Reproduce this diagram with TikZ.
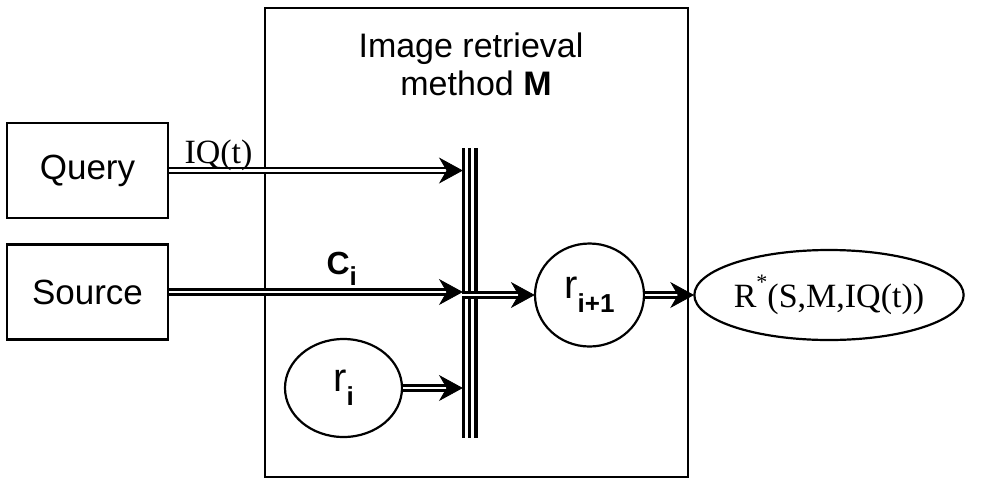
\documentclass[tikz,border=0pt]{standalone}
\usepackage{fontspec}
\setmainfont{Liberation Sans}
\newfontfamily\tnr{Liberation Serif}
\usetikzlibrary{arrows.meta,shapes.geometric}
\newcommand{\subtxt}[1]{\raisebox{-0.35em}{\fontsize{26}{26}\selectfont\bfseries #1}}
\begin{document}
\begin{tikzpicture}[x=1pt,y=-1pt,
  srcbox/.style={draw, line width=2.2pt, minimum width=161pt, minimum height=95pt,
    inner sep=0pt, font=\fontsize{35}{35}\selectfont},
  ell/.style={draw, ellipse, line width=2.2pt, inner sep=0pt},
  dblline/.style={double, line width=2.6pt, double distance=2.2pt, shorten >=13pt, line cap=butt},
  tiphead/.pic={\filldraw[line width=0.8pt, line join=miter] (0,0) -- (-22,-12) -- (-15,0) -- (-22,12) -- cycle;},
  barline/.style={line cap=butt},
  lbl/.style={font=\fontsize{34}{34}\selectfont}
]
\useasboundingbox (0,0) rectangle (985,480);

% big box
\node[draw, line width=2.2pt, minimum width=423pt, minimum height=469pt, inner sep=0pt]
  (M) at (476.5,242.5) {};
\node[lbl, anchor=base] (t1) at (471,57) {Image retrieval};
\node[lbl, anchor=base] (t2) at (476,95) {method \textbf{M}};

% left boxes
\node[srcbox] (Q) at (87.5,170.5) {Query};
\node[srcbox] (S) at (87.5,292) {Source};

% bar
\coordinate (barL) at (462,292);
\draw[barline, line width=2.6pt] (463.3,148) -- (463.3,438);
\draw[barline, line width=2.6pt] (469.5,148) -- (469.5,438);
\draw[barline, line width=4pt] (475.5,148) -- (475.5,438);

% ellipses
\node[ell, minimum width=117pt, minimum height=98pt,
  font=\fontsize{40}{40}\selectfont] (ri) at (343.5,388) {r\subtxt{i}};
\node[ell, minimum width=109pt, minimum height=103pt,
  font=\fontsize{40}{40}\selectfont] (rn) at (589.5,295) {r\subtxt{i+1}};
\node[ell, minimum width=238pt, minimum height=90pt,
  font=\fontsize{34}{34}\selectfont\tnr] (R) at (829,295) {R\raisebox{0.55em}{\fontsize{22}{22}\selectfont *}(S,M,IQ(t))};

% arrows: double shaft + filled tip
\draw[dblline] (Q.east) -- (Q.east -| barL);
\pic at (Q.east -| barL) {tiphead};
\draw[dblline] (S.east) -- (S.east -| barL);
\pic at (S.east -| barL) {tiphead};
\draw[dblline] (ri.east) -- (ri.east -| barL);
\pic at (ri.east -| barL) {tiphead};
\draw[dblline] (barL |- rn.west) -- (rn.west);
\pic at (rn.west) {tiphead};
\draw[dblline] (rn.east) -- (R.west);
\pic at (R.west) {tiphead};

% labels
\node[anchor=base west, font=\fontsize{34}{34}\selectfont\tnr] (iq) at (181,163) {IQ(t)};
\node[anchor=base west, font=\fontsize{32}{32}\selectfont\bfseries] (ci) at (323,274) {C\subtxt{i}};
\end{tikzpicture}
\end{document}
